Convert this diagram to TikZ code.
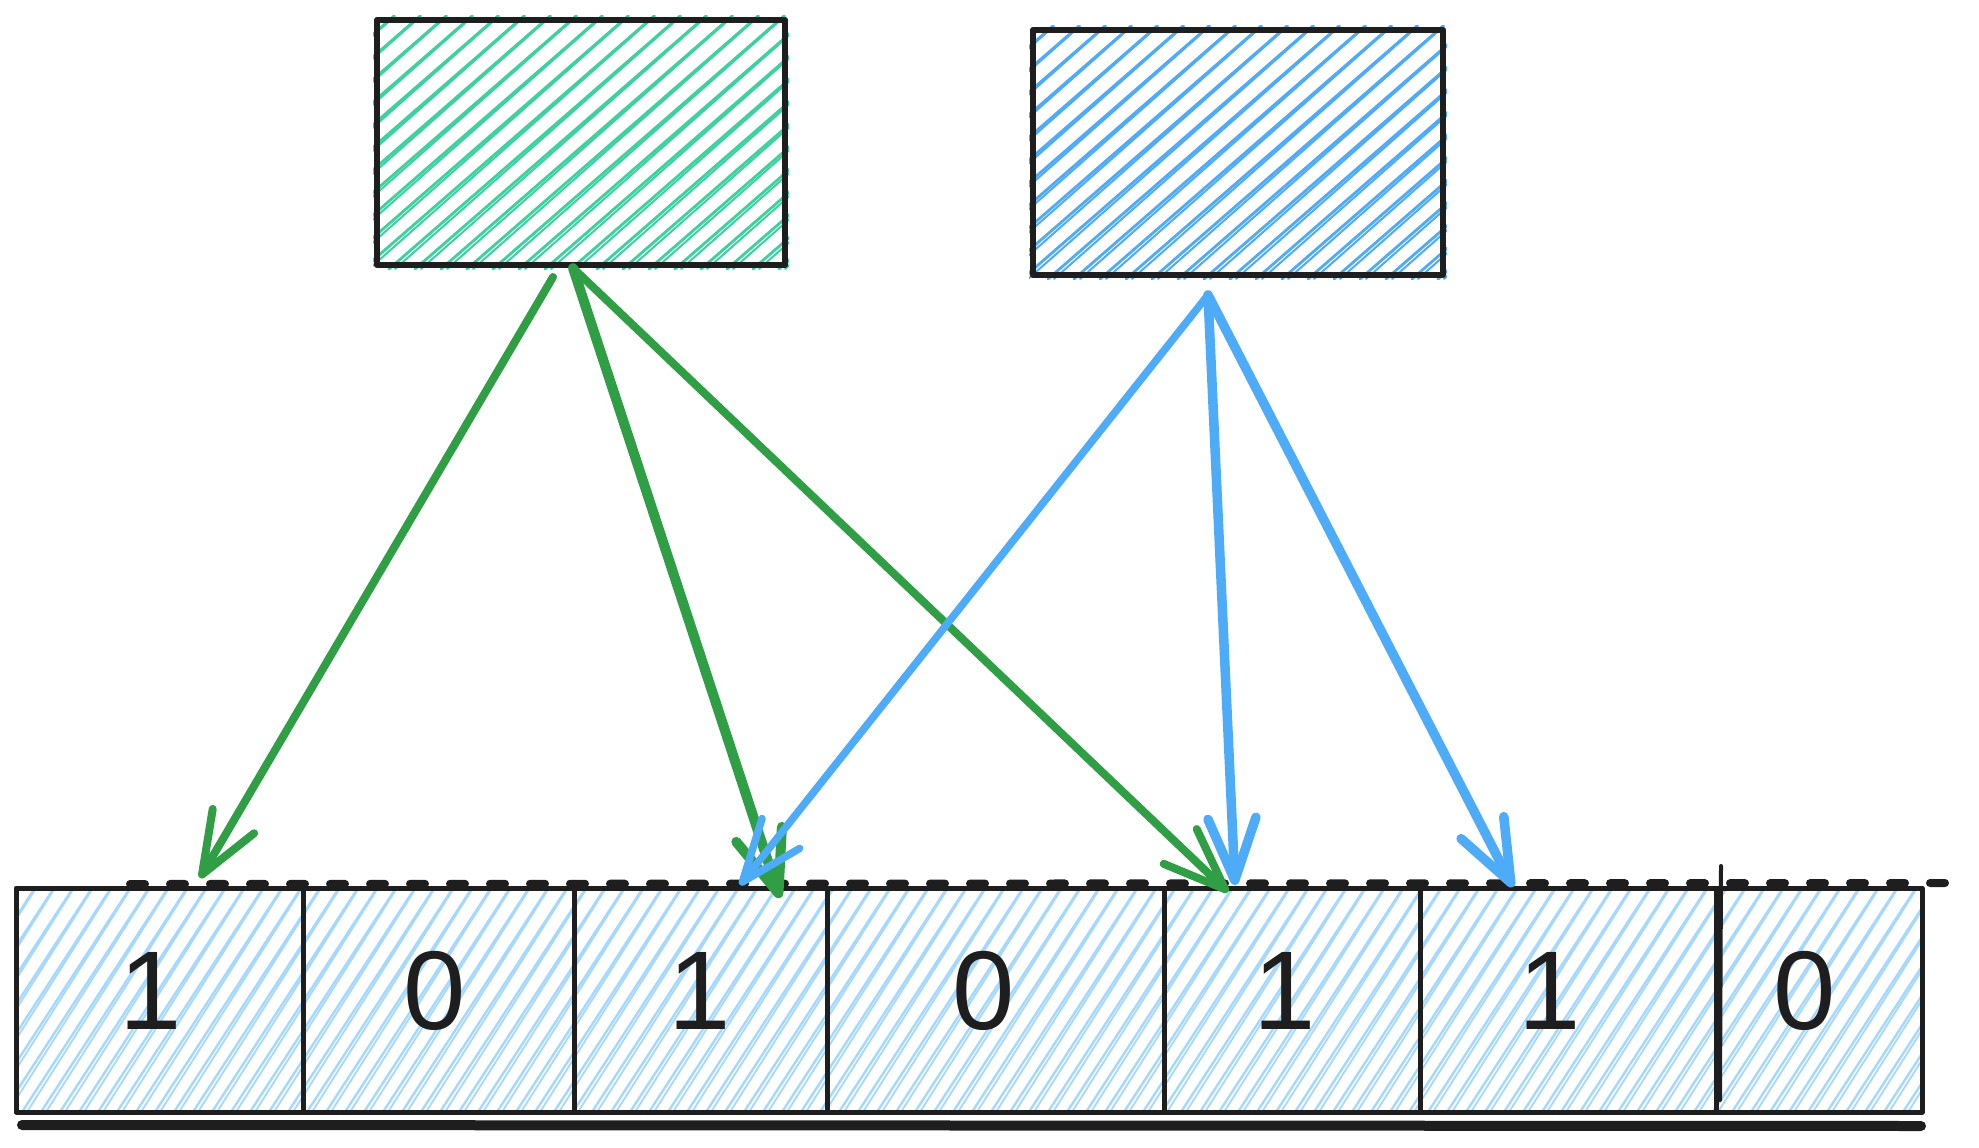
\documentclass[tikz,border=0pt]{standalone}
\usepackage{fontspec}
\setmainfont{Liberation Sans}
\usetikzlibrary{arrows.meta,calc}
\definecolor{ink}{HTML}{1E1E1E}
\definecolor{hgreen}{HTML}{3BD1A0}
\definecolor{hblue}{HTML}{4DABF7}
\definecolor{hlight}{HTML}{A5D8FF}
\definecolor{agreen}{HTML}{2F9E44}
\definecolor{ablue}{HTML}{4DABF7}
\begin{document}
\begin{tikzpicture}[x=1pt,y=-1pt,line cap=round,line join=round,
  box/.style={draw=ink,line width=6.5pt,inner sep=0pt,outer sep=0pt},
  cell/.style={draw=ink,line width=5pt,inner sep=0pt,outer sep=0pt,minimum height=224pt},
  digit/.style={text=ink,inner sep=0pt,font=\fontsize{112pt}{112pt}\selectfont},
  hatchg/.style={hgreen,line width=2.8pt},
  hatchb/.style={hblue,line width=2.8pt},
  hatchl/.style={hlight,line width=2.4pt},
  tipbarb/.style={-{Straight Barb[length=62pt,width=48pt,round]}},
  garrow/.style={agreen,line width=8pt,tipbarb},
  garrowthick/.style={agreen,line width=10pt,tipbarb},
  barrow/.style={ablue,line width=7.5pt,tipbarb},
  barrowthick/.style={ablue,line width=9.5pt,tipbarb}]
\useasboundingbox (0,0) rectangle (1979,1148);
\fill[white] (0,0) rectangle (1979,1148);

% hatching of the green box
\begin{scope}
\clip (373,16) rectangle (789,269);
\foreach \i in {0,...,28} {
  \draw[hatchg] ({77+\i*26},269) -- ++(291,-253);
  \draw[hatchg,line width=2pt] ({83+\i*26},269) -- ++(286,-253);}
\end{scope}
% hatching of the blue box
\begin{scope}
\clip (1029,26) rectangle (1447,279);
\foreach \i in {0,...,28} {
  \draw[hatchb] ({736+\i*26},279) -- ++(291,-253);
  \draw[hatchb,line width=2pt] ({742+\i*26},279) -- ++(286,-253);}
\end{scope}
% hatching of the strip
\begin{scope}
\clip (16,888) rectangle (1922,1112);
\foreach \i in {0,...,110} {
  \draw[hatchl] ({-130+\i*19},1112) -- ++(146,-224);
  \draw[hatchl,line width=1.8pt] ({-125+\i*19},1112) -- ++(142,-224);}
\end{scope}

% boxes
\node[box,minimum width=408pt,minimum height=245pt] (g) at (581,142.5) {};
\node[box,minimum width=410pt,minimum height=245pt] (b) at (1238,152.5) {};

% strip cells
\node[cell,minimum width=287pt] (c1) at (159.5,1000) {};
\node[cell,minimum width=271pt] (c2) at (438.5,1000) {};
\node[cell,minimum width=253pt] (c3) at (700.5,1000) {};
\node[cell,minimum width=337pt] (c4) at (995.5,1000) {};
\node[cell,minimum width=256pt] (c5) at (1292,1000) {};
\node[cell,minimum width=296pt] (c6) at (1568,1000) {};
\node[cell,minimum width=206pt] (c7) at (1819,1000) {};
\draw[ink,line width=4pt] ([xshift=5pt,yshift=22pt]c6.north east) -- ([xshift=4pt,yshift=12pt]c6.south east);

% digits
\node[digit] (d1) at (151,991) {1};
\node[digit] (d2) at (435,991) {0};
\node[digit] (d3) at (700,991) {1};
\node[digit] (d4) at (984,991) {0};
\node[digit] (d5) at (1285,991) {1};
\node[digit] (d6) at (1550,991) {1};
\node[digit] (d7) at (1805,991) {0};

% dashed line above the strip and thick line below it
\draw[ink,line width=8pt,dash pattern=on 15pt off 25pt] ([xshift=114pt,yshift=4pt]c1.north west) -- ([xshift=25pt,yshift=5pt]c7.north east);
\draw[ink,line width=10pt] ([xshift=6pt,yshift=-13pt]c1.south west) -- ([xshift=-1pt,yshift=-14pt]c7.south east);

% green arrows
\draw[garrow] ([xshift=-28pt,yshift=-12pt]g.south) -- ([xshift=40.5pt,yshift=10pt]c1.north);
\draw[garrowthick] ([xshift=-8pt,yshift=-3pt]g.south) -- ([xshift=79.5pt,yshift=-10pt]c3.north);
\draw[garrow] ([xshift=-8pt,yshift=-3pt]g.south) -- ([xshift=-64pt,yshift=-4pt]c5.north);

% blue arrows
\draw[barrow] ([xshift=-30pt,yshift=-20pt]b.south) -- ([xshift=39.5pt,yshift=3pt]c3.north);
\draw[barrowthick] ([xshift=-30pt,yshift=-20pt]b.south) -- ([xshift=-57pt,yshift=3pt]c5.north);
\draw[barrowthick] ([xshift=-30pt,yshift=-20pt]b.south) -- ([xshift=-55pt,yshift=1pt]c6.north);
\end{tikzpicture}
\end{document}
